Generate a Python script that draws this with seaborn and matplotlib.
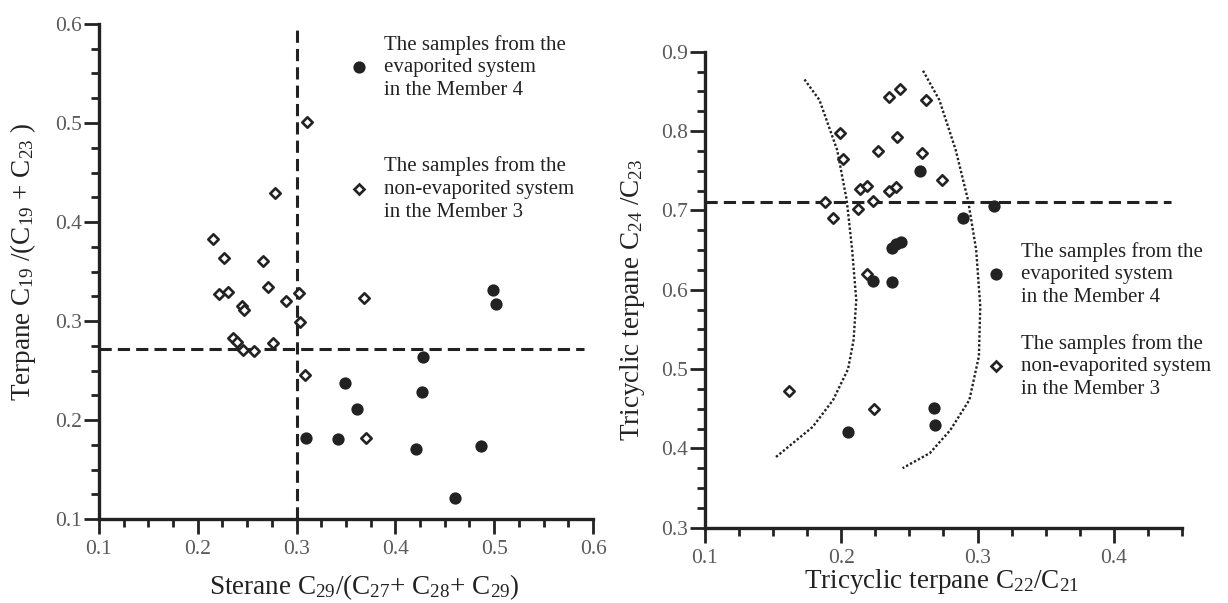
import numpy as np
import pandas as pd
import matplotlib
matplotlib.use("Agg")
import matplotlib.pyplot as plt
import seaborn as sns
from matplotlib.lines import Line2D
from matplotlib.ticker import MultipleLocator, FormatStrFormatter

# ---- left panel: sterane C29 ratio vs terpane C19/(C19+C23)
left_evap_x = [0.499, 0.502, 0.428, 0.349, 0.427, 0.361, 0.310, 0.342, 0.421, 0.487, 0.460]
left_evap_y = [0.331, 0.317, 0.264, 0.237, 0.228, 0.211, 0.182, 0.181, 0.171, 0.174, 0.121]
left_non_x = [0.311, 0.278, 0.215, 0.227, 0.266, 0.221, 0.231, 0.271, 0.289, 0.302, 0.245,
              0.247, 0.236, 0.240, 0.246, 0.257, 0.276, 0.303, 0.309, 0.368, 0.370]
left_non_y = [0.501, 0.429, 0.383, 0.364, 0.361, 0.327, 0.329, 0.334, 0.320, 0.328, 0.315,
              0.311, 0.283, 0.279, 0.271, 0.270, 0.278, 0.299, 0.245, 0.323, 0.182]
left_vline = 0.30
left_hline = 0.272
left_hline_end = 0.591

# ---- right panel: tricyclic terpane C22/C21 vs C24/C23
right_evap_x = [0.258, 0.312, 0.289, 0.237, 0.240, 0.244, 0.223, 0.237, 0.205, 0.268, 0.269]
right_evap_y = [0.749, 0.705, 0.690, 0.652, 0.658, 0.660, 0.611, 0.610, 0.420, 0.451, 0.430]
right_non_x = [0.235, 0.243, 0.262, 0.199, 0.241, 0.227, 0.259, 0.201, 0.274, 0.214, 0.219,
               0.235, 0.240, 0.223, 0.188, 0.212, 0.194, 0.219, 0.162, 0.224]
right_non_y = [0.843, 0.853, 0.839, 0.797, 0.792, 0.775, 0.772, 0.765, 0.738, 0.727, 0.731,
               0.725, 0.730, 0.712, 0.710, 0.702, 0.690, 0.620, 0.472, 0.449]
right_hline = 0.711
right_hline_end = 0.442

# boundary curves
curve1_x = [0.173, 0.184, 0.197, 0.204, 0.208, 0.211, 0.209, 0.205, 0.194, 0.179, 0.152]
curve1_y = [0.865, 0.839, 0.776, 0.713, 0.650, 0.587, 0.536, 0.500, 0.461, 0.427, 0.389]
curve2_x = [0.260, 0.272, 0.284, 0.293, 0.299, 0.302, 0.301, 0.294, 0.280, 0.265, 0.245]
curve2_y = [0.876, 0.839, 0.776, 0.713, 0.650, 0.579, 0.516, 0.461, 0.423, 0.394, 0.375]

label_evap = "The samples from the\nevaporited system\nin the Member 4"
label_non = "The samples from the\nnon-evaporited system\nin the Member 3"

ink = "#222222"

sns.set_style("ticks")
plt.rcParams["font.family"] = ["Liberation Serif", "DejaVu Serif"]
plt.rcParams["mathtext.default"] = "regular"

fig = plt.figure(figsize=(12.28, 6.03), dpi=100)
ax1 = fig.add_axes([0.0806, 0.1393, 0.4023, 0.8209])
ax2 = fig.add_axes([0.5741, 0.1249, 0.3884, 0.7894])


def style_axis(ax, xlim, ylim):
    ax.set_xlim(*xlim)
    ax.set_ylim(*ylim)
    ax.xaxis.set_major_locator(MultipleLocator(0.1))
    ax.yaxis.set_major_locator(MultipleLocator(0.1))
    ax.xaxis.set_minor_locator(MultipleLocator(0.025))
    ax.yaxis.set_minor_locator(MultipleLocator(0.025))
    ax.xaxis.set_major_formatter(FormatStrFormatter("%.1f"))
    ax.yaxis.set_major_formatter(FormatStrFormatter("%.1f"))
    sns.despine(ax=ax)
    for s in ["left", "bottom"]:
        ax.spines[s].set_linewidth(2.4)
        ax.spines[s].set_color(ink)
    ax.tick_params(which="major", direction="out", length=11, width=2, color=ink,
                   labelsize=15.5, labelcolor="#5a5a5a", pad=1)
    ax.tick_params(which="minor", direction="out", length=6, width=2, color=ink)
    ax.tick_params(axis="x", which="major", pad=4)


def draw_points(ax, ex, ey, nx, ny):
    evap = pd.DataFrame({"x": ex, "y": ey})
    non = pd.DataFrame({"x": nx, "y": ny})
    sns.scatterplot(data=non, x="x", y="y", marker="D", s=28, facecolor="white",
                    edgecolor=ink, linewidth=1.9, ax=ax, zorder=3)
    sns.scatterplot(data=evap, x="x", y="y", marker="o", s=78, color=ink,
                    linewidth=0, ax=ax, zorder=4)


def add_legend(ax, anchor, spacing):
    handles = [
        Line2D([], [], ls="none", marker="o", ms=8.8, color=ink, mew=0),
        Line2D([], [], ls="none", marker="D", ms=5.2, mfc="white", mec=ink, mew=1.9),
    ]
    leg = ax.legend(handles, [label_evap, label_non], loc="upper left",
                    bbox_to_anchor=anchor, frameon=False, fontsize=15,
                    handlelength=1.0, handletextpad=0.7, borderpad=0,
                    borderaxespad=0, labelspacing=spacing)
    for t in leg.get_texts():
        t.set_linespacing(1.26)
        t.set_color(ink)


# ---- left
style_axis(ax1, (0.1, 0.6), (0.1, 0.6))
ax1.plot([left_vline, left_vline], [0.1, 0.6], ls=(0, (4, 2)), lw=2.2, color=ink, zorder=2)
ax1.plot([0.1, left_hline_end], [left_hline, left_hline], ls=(0, (4, 2)), lw=2.2, color=ink, zorder=2)
draw_points(ax1, left_evap_x, left_evap_y, left_non_x, left_non_y)
ax1.set_xlabel(r"Sterane C$_{29}$/(C$_{27}$+ C$_{28}$+ C$_{29}$)", fontsize=19.5, color=ink)
ax1.set_ylabel(r"Terpane C$_{19}$ /(C$_{19}$ + C$_{23}$ )", fontsize=19.5, color=ink)
ax1.xaxis.set_label_coords(0.536, -0.108)
ax1.yaxis.set_label_coords(-0.124, 0.519)
add_legend(ax1, (0.506, 0.978), 2.7)

# ---- right
style_axis(ax2, (0.1, 0.45), (0.3, 0.9))
ax2.plot(curve1_x, curve1_y, ls=(0, (1, 0.9)), lw=1.7, color=ink, zorder=2)
ax2.plot(curve2_x, curve2_y, ls=(0, (1, 0.9)), lw=1.7, color=ink, zorder=2)
ax2.plot([0.1, right_hline_end], [right_hline, right_hline], ls=(0, (4, 2)), lw=2.2, color=ink, zorder=2)
draw_points(ax2, right_evap_x, right_evap_y, right_non_x, right_non_y)
ax2.set_xlabel(r"Tricyclic terpane C$_{22}$/C$_{21}$", fontsize=19.5, color=ink)
ax2.set_ylabel(r"Tricyclic terpane C$_{24}$ /C$_{23}$", fontsize=19.5, color=ink)
ax2.xaxis.set_label_coords(0.495, -0.082)
ax2.yaxis.set_label_coords(-0.122, 0.478)
add_legend(ax2, (0.589, 0.601), 1.3)

fig.savefig("out.png", dpi=100)
